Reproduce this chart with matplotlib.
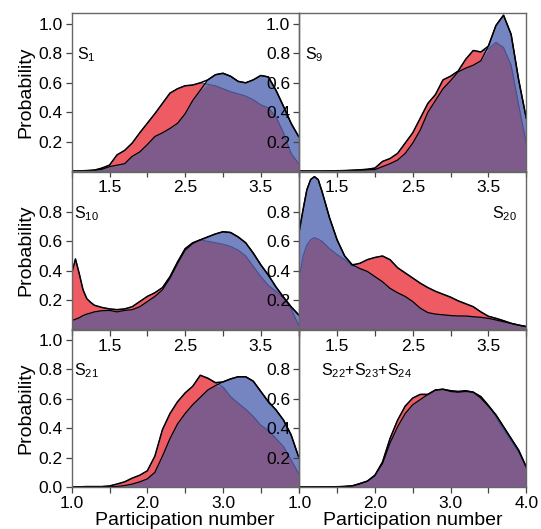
import matplotlib
matplotlib.use("Agg")
import matplotlib.pyplot as plt
import numpy as np

plt.rcParams['font.family'] = ['Liberation Sans', 'DejaVu Sans']
plt.rcParams['mathtext.default'] = 'regular'

# participation number grid (finer near 1.0 where the sharp peaks are)
pn = [1.0, 1.05, 1.1, 1.15, 1.2, 1.25, 1.3, 1.4, 1.5, 1.6, 1.7, 1.8, 1.9, 2.0,
      2.1, 2.2, 2.3, 2.4, 2.5, 2.6, 2.7, 2.8, 2.9, 3.0, 3.1, 3.2, 3.3, 3.4,
      3.5, 3.6, 3.7, 3.8, 3.9, 4.0]

s1_red = [0, 0, 0.001, 0.002, 0.003, 0.004, 0.006, 0.02, 0.04, 0.11, 0.14, 0.19, 0.26, 0.325,
          0.39, 0.46, 0.53, 0.56, 0.58, 0.585, 0.60, 0.59, 0.58, 0.56, 0.54, 0.525, 0.51, 0.485,
          0.45, 0.43, 0.37, 0.26, 0.12, 0.05]
s1_blue = [0, 0, 0.001, 0.002, 0.003, 0.004, 0.005, 0.012, 0.03, 0.04, 0.05, 0.10, 0.13, 0.18,
           0.235, 0.26, 0.29, 0.325, 0.39, 0.48, 0.55, 0.62, 0.655, 0.665, 0.645, 0.61, 0.60, 0.62,
           0.65, 0.64, 0.55, 0.44, 0.325, 0.235]

s9_red = [0, 0, 0, 0, 0, 0, 0, 0.001, 0.002, 0.003, 0.005, 0.008, 0.012, 0.02,
          0.065, 0.085, 0.12, 0.19, 0.26, 0.36, 0.46, 0.52, 0.62, 0.645, 0.68, 0.76, 0.82, 0.81,
          0.83, 0.875, 0.84, 0.72, 0.45, 0.19]
s9_blue = [0, 0, 0, 0, 0, 0, 0, 0.001, 0.002, 0.003, 0.004, 0.006, 0.008, 0.01,
           0.03, 0.05, 0.075, 0.12, 0.19, 0.28, 0.40, 0.48, 0.56, 0.615, 0.675, 0.70, 0.72, 0.75,
           0.85, 0.99, 1.06, 0.93, 0.62, 0.36]

s10_red = [0.38, 0.48, 0.38, 0.27, 0.21, 0.185, 0.165, 0.15, 0.14, 0.135, 0.14, 0.155, 0.19, 0.225,
           0.25, 0.285, 0.36, 0.46, 0.55, 0.59, 0.61, 0.60, 0.59, 0.58, 0.565, 0.54, 0.50, 0.43,
           0.36, 0.30, 0.26, 0.215, 0.14, 0.03]
s10_blue = [0.06, 0.07, 0.08, 0.095, 0.105, 0.112, 0.12, 0.128, 0.13, 0.12, 0.13, 0.135, 0.155, 0.19,
            0.225, 0.27, 0.35, 0.45, 0.54, 0.585, 0.61, 0.63, 0.65, 0.665, 0.66, 0.63, 0.59, 0.52,
            0.44, 0.37, 0.29, 0.22, 0.155, 0.10]

s20_red = [0.35, 0.50, 0.575, 0.61, 0.625, 0.615, 0.60, 0.55, 0.51, 0.475, 0.43, 0.45, 0.475, 0.49,
           0.50, 0.475, 0.42, 0.385, 0.35, 0.315, 0.285, 0.26, 0.24, 0.22, 0.195, 0.175, 0.155, 0.12,
           0.09, 0.076, 0.06, 0.042, 0.03, 0.02]
s20_blue = [0.67, 0.815, 0.95, 1.02, 1.04, 1.02, 0.94, 0.76, 0.61, 0.50, 0.44, 0.415, 0.395, 0.36,
            0.325, 0.28, 0.25, 0.225, 0.19, 0.145, 0.115, 0.105, 0.10, 0.095, 0.092, 0.092, 0.087, 0.083,
            0.076, 0.065, 0.053, 0.042, 0.03, 0.02]

s21_red = [0, 0, 0.001, 0.002, 0.003, 0.003, 0.003, 0.003, 0.007, 0.02, 0.035, 0.06, 0.08, 0.11,
           0.21, 0.39, 0.50, 0.58, 0.64, 0.685, 0.76, 0.74, 0.71, 0.68, 0.615, 0.57, 0.53, 0.48,
           0.42, 0.385, 0.33, 0.275, 0.185, 0.09]
s21_blue = [0, 0, 0, 0, 0, 0, 0, 0.001, 0.002, 0.003, 0.01, 0.02, 0.035, 0.055,
            0.10, 0.21, 0.33, 0.43, 0.50, 0.56, 0.61, 0.66, 0.69, 0.715, 0.735, 0.75, 0.75, 0.72,
            0.65, 0.58, 0.525, 0.455, 0.355, 0.205]

s22_red = [0, 0, 0, 0, 0, 0, 0, 0.001, 0.002, 0.004, 0.008, 0.018, 0.037, 0.073,
           0.17, 0.33, 0.455, 0.55, 0.605, 0.63, 0.63, 0.66, 0.665, 0.655, 0.65, 0.655, 0.645, 0.615,
           0.555, 0.475, 0.39, 0.315, 0.235, 0.137]
s22_blue = [0, 0, 0, 0, 0, 0, 0.001, 0.001, 0.002, 0.003, 0.007, 0.023, 0.04, 0.08,
            0.16, 0.30, 0.41, 0.50, 0.56, 0.595, 0.63, 0.66, 0.665, 0.65, 0.645, 0.65, 0.645, 0.605,
            0.55, 0.49, 0.41, 0.33, 0.25, 0.137]

panels = [
    (s1_red, s1_blue, r'S$_1$'),
    (s9_red, s9_blue, r'S$_9$'),
    (s10_red, s10_blue, r'S$_{10}$'),
    (s20_red, s20_blue, r'S$_{20}$'),
    (s21_red, s21_blue, r'S$_{21}$'),
    (s22_red, s22_blue, r'S$_{22}$+S$_{23}$+S$_{24}$'),
]

red_c = '#ef5b63'
blue_c = '#7585c2'
purple_c = '#7f5b8c'
under_c = '#44508c'
frame_c = '#666666'

fig = plt.figure(figsize=(5.41, 5.29), dpi=100)

x = np.array(pn)
lefts = [0.1325, 0.5532]
width = 0.4195
bottoms = [0.6767, 0.3771, 0.0794]
height = 0.2987

for i, (red, blue, name) in enumerate(panels):
    row, col = divmod(i, 2)
    ax = fig.add_axes([lefts[col], bottoms[row], width, height])
    ax.patch.set_visible(False)
    red = np.array(red)
    blue = np.array(blue)
    low = np.minimum(red, blue)
    top = np.maximum(red, blue)

    ax.fill_between(x, 0, red, color=red_c, lw=0)
    ax.fill_between(x, 0, blue, color=blue_c, lw=0)
    ax.fill_between(x, 0, low, color=purple_c, lw=0)
    ax.plot(x, red, color=under_c, lw=0.8)
    ax.plot(x, blue, color='black', lw=0.9)
    ax.plot(x, top, color='black', lw=1.1)

    ax.set_xlim(1.0, 4.0)
    ax.set_ylim(0, 1.075)
    for sp in ax.spines.values():
        sp.set_color(frame_c)
        sp.set_linewidth(1.0)

    ax.tick_params(direction='out', length=4.5, width=0.9, color='#444444',
                   pad=2, labelsize=12.5, top=False, right=False)

    ax.set_xticks(np.arange(1.0, 4.01, 0.5))
    if row < 2:
        ax.set_xticklabels(['', '1.5', '', '2.5', '', '3.5', ''])
    elif col == 0:
        ax.set_xticklabels(['1.0', '', '2.0', '', '3.0', '', ''])
        ax.set_xlabel('Participation number', fontsize=14, labelpad=1)
    else:
        ax.set_xticklabels(['1.0', '', '2.0', '', '3.0', '', '4.0'])
        ax.set_xlabel('Participation number', fontsize=14, labelpad=1)

    if row == 0:
        yt = [0.2, 0.4, 0.6, 0.8, 1.0]
    elif row == 2 and col == 0:
        yt = [0.0, 0.2, 0.4, 0.6, 0.8, 1.0]
    else:
        yt = [0.2, 0.4, 0.6, 0.8]
    ax.set_yticks(yt)
    ax.set_yticklabels(['%.1f' % v for v in yt])

    if col == 0:
        ax.set_ylabel('Probability', fontsize=14, labelpad=3)

    if name == r'S$_{20}$':
        ax.text(3.87, 0.79, name, fontsize=11.5, ha='right', va='center')
    elif col == 1 and row == 2:
        ax.text(1.29, 0.79, name, fontsize=11.5, ha='left', va='center')
    elif col == 1:
        ax.text(1.07, 0.79, name, fontsize=11.5, ha='left', va='center')
    else:
        ax.text(1.03 if row > 0 else 1.07, 0.79, name, fontsize=11.5, ha='left', va='center')

fig.savefig('out.png', dpi=100)
